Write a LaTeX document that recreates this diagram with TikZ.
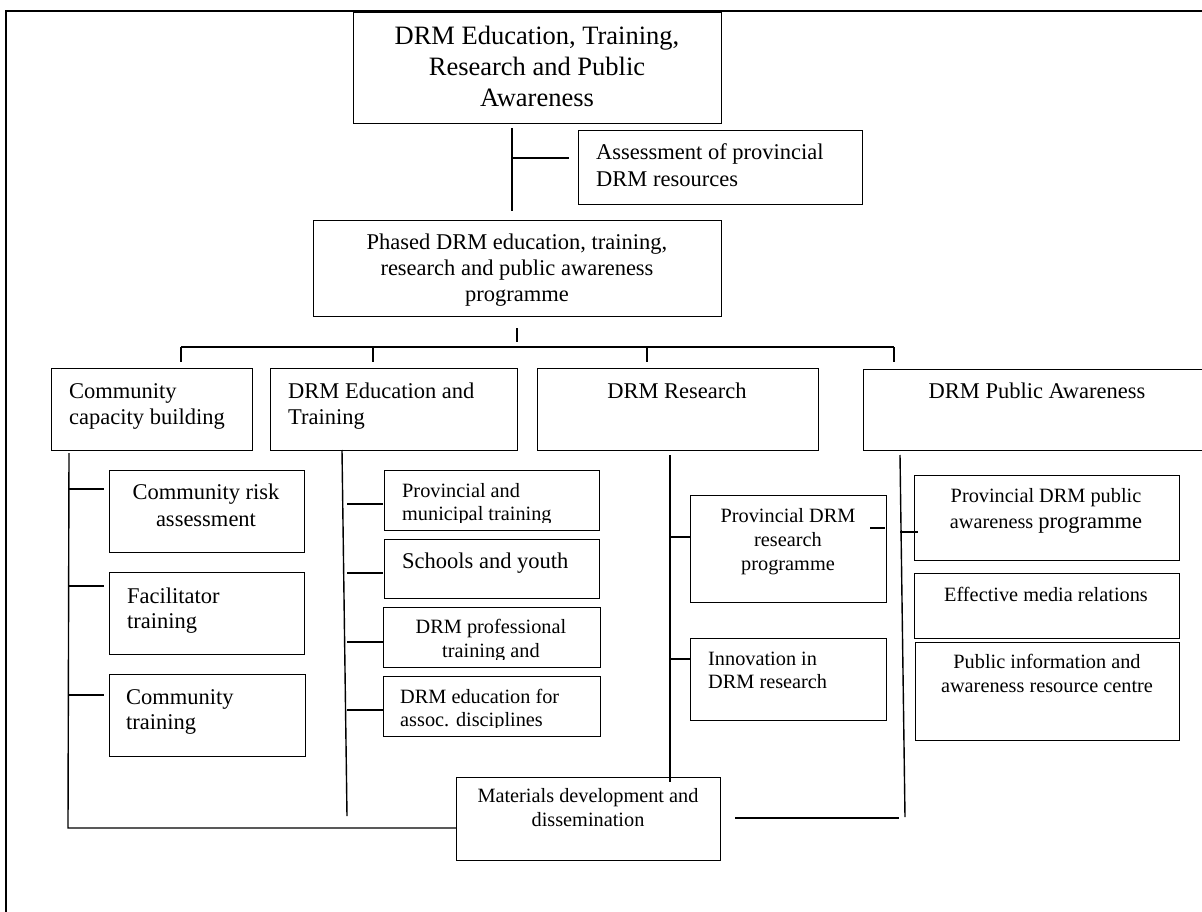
\documentclass[tikz,border=0pt]{standalone}
\usepackage{fontspec}
\setmainfont{Liberation Serif}
\newcommand{\fs}[2]{\fontsize{#1pt}{#2pt}\selectfont}
\tikzset{
  bx/.style={draw, line width=1.4pt, inner sep=0pt, anchor=north west},
  ln/.style={line width=1.4pt},
  frameln/.style={line width=2pt},
  tl/.style={inner sep=0pt, anchor=base west, align=left},
  tc/.style={inner sep=0pt, anchor=base, align=center},
}
\newcommand{\bxn}[5]{\node[bx, minimum width={(#4-#2)*1pt}, minimum height={(#5-#3)*1pt}] (#1) at (#2,#3) {};}
\newcommand{\seg}[6]{\coordinate (#1) at (#2,#3); \coordinate (#4) at (#5,#6); \draw[ln] (#1) -- (#4);}
\begin{document}
\begin{tikzpicture}[x=1pt,y=-1pt]
\useasboundingbox (0,0) rectangle (1202,912);
\clip (0,0) rectangle (1202,912);
% outer frame (cropped)
\coordinate (f1) at (6,930);
\coordinate (f2) at (6,11);
\coordinate (f3) at (1220,11);
\draw[frameln] (f1) -- (f2) -- (f3);

% boxes
\bxn{top}{353}{12}{721}{123}
\bxn{assess}{578}{130}{862}{204}
\bxn{phased}{313}{220}{721}{316}
\bxn{cc}{51}{368}{252}{450}
\bxn{ed}{270}{368}{517}{450}
\bxn{res}{537}{368}{818}{450}
\bxn{pub}{863}{369}{1230}{450}
\bxn{cra}{109}{470}{304}{552}
\bxn{fac}{109}{572}{304}{654}
\bxn{ctr}{109}{674}{305}{756}
\bxn{pmt}{384}{470}{599}{530}
\bxn{sch}{384}{539}{599}{598}
\bxn{prof}{383}{607}{600}{667}
\bxn{assoc}{383}{676}{600}{736}
\bxn{resp}{690}{495}{886}{602}
\bxn{inno}{690}{638}{886}{720}
\bxn{pubp}{914}{475}{1179}{560}
\bxn{media}{914}{573}{1179}{638}
\bxn{info}{915}{642}{1179}{740}
\bxn{mat}{456}{777}{720}{860}

% texts (anchor = baseline of the last line)
\node[tc, font=\fs{26.5}{31}] (top-t) at (537,106.5) {DRM Education, Training,\\Research and Public\\Awareness};
\node[tl, font=\fs{22.5}{27}] (assess-t) at (596,186.3) {Assessment of provincial\\DRM resources};
\node[tc, font=\fs{22.5}{26}] (phased-t) at (517,301.3) {Phased DRM education, training,\\research and public awareness\\programme};
\node[tl, font=\fs{22.5}{26}] (cc-t) at (69,424.3) {Community\\capacity building};
\node[tl, font=\fs{22.5}{26}] (ed-t) at (288,424.3) {DRM Education and\\Training};
\node[tc, font=\fs{22.5}{26}] (res-t) at (677,398.3) {DRM Research};
\node[tc, font=\fs{22.5}{26}] (pub-t) at (1037,398.3) {DRM Public Awareness};
\node[tc, font=\fs{22.5}{27}] (cra-t) at (206,526.3) {Community risk\\assessment};
\node[tl, font=\fs{22.5}{25}] (fac-t) at (127,628.3) {Facilitator\\training};
\node[tl, font=\fs{22.5}{25}] (ctr-t) at (126,729.3) {Community\\training};
\begin{scope}
  \clip (384,470) rectangle (599,522);
  \node[tl, font=\fs{20.3}{23}] (pmt-t) at (402,520.7) {Provincial and\\municipal training};
\end{scope}
\node[tl, font=\fs{22.5}{26}] (sch-t) at (402,568.3) {Schools and youth};
\begin{scope}
  \clip (383,607) rectangle (600,659);
  \node[tc, font=\fs{20.3}{24}] (prof-t) at (491,657.7) {DRM professional\\training and};
\end{scope}
\begin{scope}
  \clip (383,676) rectangle (600,727);
  \node[tl, font=\fs{20.3}{22.5}] (assoc-t) at (400,726.2) {DRM education for\\assoc. disciplines};
\end{scope}
\node[tc, font=\fs{20.3}{24}] (resp-t) at (788,570.7) {Provincial DRM\\research\\programme};
\node[tl, font=\fs{20.3}{23}] (inno-t) at (708,688.7) {Innovation in\\DRM research};
\node[tc, font=\fs{20.3}{26}] (pubp-t) at (1046,528.7) {Provincial DRM public\\awareness {\fs{22.5}{26}programme}};
\node[tc, font=\fs{20.3}{24}] (media-t) at (1046,601.7) {Effective media relations};
\node[tc, font=\fs{20.3}{24}] (info-t) at (1047,692.7) {Public information and\\awareness resource centre};
\node[tc, font=\fs{20.3}{24}] (mat-t) at (588,826.7) {Materials development and\\dissemination};

% connectors: top
\seg{tv1}{512}{128}{tv2}{512}{211}
\seg{tb1}{512}{158}{tb2}{569}{158}
\seg{tk1}{517}{328}{tk2}{517}{342}
% bus
\seg{bus1}{181}{347}{bus2}{894}{347}
\coordinate (d1) at (181,362);
\coordinate (d2a) at (373,347);
\coordinate (d2) at (373,362);
\coordinate (d3a) at (647,347);
\coordinate (d3) at (647,362);
\coordinate (d4) at (894,362);
\draw[ln] (bus1) -- (d1);
\draw[ln] (d2a) -- (d2);
\draw[ln] (d3a) -- (d3);
\draw[ln] (bus2) -- (d4);
% community column
\coordinate (cv1) at (69,453);
\coordinate (cv2) at (68,828);
\draw[ln] (cv1) -- (cv2) -- (cv2 -| mat.west);
\seg{cb1}{69}{489}{cb1e}{104}{489}
\seg{cb2}{69}{586}{cb2e}{104}{586}
\seg{cb3}{68}{695}{cb3e}{104}{695}
% education column
\seg{ev1}{342}{450}{ev2}{347}{816}
\seg{eb1}{347}{504}{eb1e}{383}{504}
\seg{eb2}{347}{573}{eb2e}{383}{573}
\seg{eb3}{347}{642}{eb3e}{383}{642}
\seg{eb4}{347}{710}{eb4e}{383}{710}
% research column
\seg{rv1}{670}{455}{rv2}{670}{782}
\seg{rb1}{670}{537}{rb1e}{690}{537}
\seg{rb2}{670}{659}{rb2e}{690}{659}
\seg{rs1}{870}{528}{rs2}{885}{528}
% public column
\seg{pv1}{900}{455}{pv2}{905}{817}
\seg{pb1}{900}{532}{pb1e}{918}{532}
\seg{pm1}{735}{818}{pm2}{899}{818}
\end{tikzpicture}
\end{document}
